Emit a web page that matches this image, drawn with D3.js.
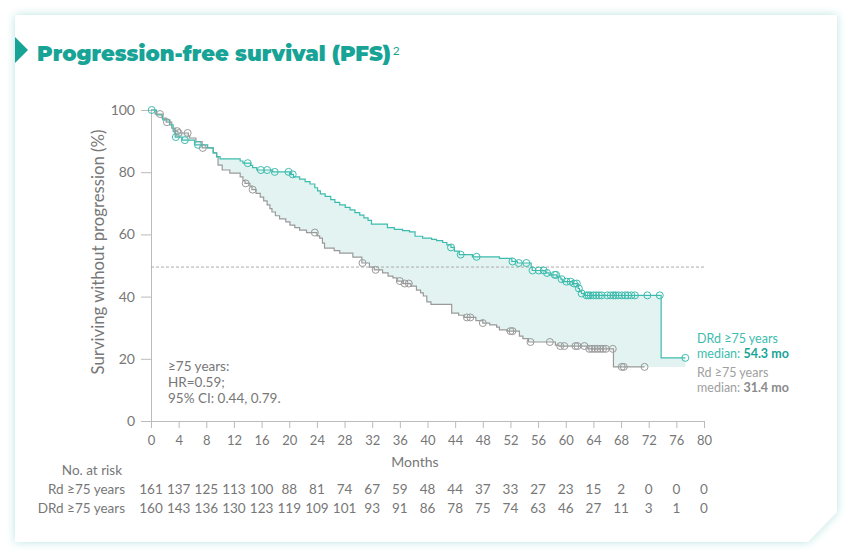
<!DOCTYPE html>
<html><head><meta charset="utf-8">
<script src="https://cdn.jsdelivr.net/npm/d3@7"></script>
<style>html,body{margin:0;padding:0;background:#fff;} svg{display:block;}</style>
</head><body>
<script>
// ---------------- DATA ----------------
const monthTicks = d3.range(0, 81, 4);
const yTicks = [0, 20, 40, 60, 80, 100];
const rdAtRisk  = [161,137,125,113,100,88,81,74,67,59,48,44,37,33,27,23,15,2,0,0,0];
const drdAtRisk = [160,143,136,130,123,119,109,101,93,91,86,78,75,74,63,46,27,11,3,1,0];

// Kaplan-Meier steps: [month of drop, survival % after drop]
const drdSteps = [[0,100],[0.8,98.4],[1.7,96.8],[2.7,95.2],[3.2,93.2],[3.5,91.3],[4.5,90.3],[6.3,88.8],[8.2,87.8],[9,86.2],[9.5,85],[10,84.3],[12.9,83.6],[13.3,82.9],[14.4,82.2],[14.7,81.5],[15.3,80.7],[17.6,80.1],[20.2,79.3],[20.6,78.5],[21.5,77.8],[22.3,77.0],[23.0,76.2],[23.7,75.0],[24.1,74.0],[24.5,73.0],[25.2,72.2],[26.0,71.2],[26.6,70.3],[27.3,69.5],[28.1,68.7],[28.8,67.9],[29.5,67.0],[30.2,66.2],[30.8,65.3],[31.4,64.5],[31.9,63.3],[34.2,62.2],[35.2,61.6],[36.4,61.2],[37.4,60.8],[38.2,59.4],[39.3,58.8],[40.6,58.4],[41.3,58.0],[42.2,57.4],[42.8,56.6],[43.4,55.8],[43.9,54.6],[44.6,53.5],[46.5,52.8],[50.4,52.3],[52.2,51.3],[53.0,50.8],[55.0,49.4],[55.15,48.4],[57.1,47.6],[57.6,47.0],[58.7,46.3],[59.3,45.6],[59.5,44.8],[61.0,44.2],[61.8,42.6],[62.0,41.6],[62.3,41.0],[62.7,40.4],[73.8,20.3]];
const drdEnd = 77.3;
const drdCensor = [0.1,3.6,4.9,6.8,14.0,15.9,16.8,17.9,19.9,20.5,43.4,44.8,47.1,52.3,53.2,54.3,55.2,56.1,56.8,57.3,58.4,58.6,59.4,60.1,60.7,61.2,61.6,61.9,62.3,63.0,63.3,63.6,64.0,64.4,64.8,65.2,66.0,66.5,66.9,67.2,67.6,68.1,68.6,69.0,69.5,70.0,71.8,73.6,77.3];

const rdSteps = [[0,100],[0.6,98.7],[1.6,97.4],[2.2,96.1],[3.0,94.2],[3.5,93.2],[3.9,92.6],[5.4,91.6],[5.6,91.0],[6.5,89.8],[7.4,87.8],[9.0,86.2],[9.5,84.9],[9.7,82.3],[10.3,80.7],[11.4,79.7],[12.9,78.5],[13.3,77.3],[13.6,76.4],[14.3,75.5],[14.6,74.4],[15.2,73.2],[15.8,72.0],[16.3,70.8],[16.8,69.5],[17.2,68.3],[17.5,67.2],[18.0,66.0],[18.6,65.0],[19.5,64.0],[20.1,63.0],[20.8,62.2],[21.5,61.4],[22.5,60.6],[24.0,59.5],[24.4,58.8],[24.8,57.2],[25.1,55.6],[26.5,54.8],[27.3,54.0],[29.2,52.7],[30.5,50.8],[31.6,49.5],[32.3,48.6],[33.5,47.6],[34.3,46.6],[35.0,46.0],[35.6,45.0],[36.5,44.2],[37.6,43.4],[38.4,42.1],[39.0,41.2],[39.4,40.2],[39.9,38.3],[40.5,37.5],[43.5,34.7],[44.5,34.0],[45.3,33.3],[47.0,32.3],[48.0,31.5],[49.0,30.9],[50.0,30.2],[50.4,29.3],[51.5,28.9],[53.3,27.3],[53.8,26.5],[54.6,25.4],[58.5,24.4],[59.0,24.1],[63.2,23.2],[66.9,17.4]];
const rdEnd = 71.4;
const rdCensor = [1.3,2.3,3.8,4.0,5.3,7.5,13.7,14.7,23.7,30.6,32.5,36.0,36.7,37.3,45.7,46.2,48.0,52.0,52.3,54.9,57.7,59.2,59.8,61.4,61.7,62.7,63.4,63.8,64.2,64.6,65.0,65.4,65.8,66.8,68.1,68.4,71.4];
const medianLevel = 49.5;

// ---------------- STYLE ----------------
const TEAL = "#3dbcae", TEAL_DARK = "#17a396", GRAY = "#9a9a9a", TXT = "#777", FILL = "#e3f3f1";
const FONT = "Lato, 'Noto Sans', sans-serif";

const W = 852, H = 558;
const svg = d3.select("body").append("svg").attr("width", W).attr("height", H);
const defs = svg.append("defs");
const f = defs.append("filter").attr("id","glow").attr("x","-10%").attr("y","-10%").attr("width","120%").attr("height","120%");
f.append("feDropShadow").attr("dx",0).attr("dy",0).attr("stdDeviation",5).attr("flood-color","#9fdbd4").attr("flood-opacity",0.75);

// card
svg.append("path").attr("d","M15,15 L837,15 L837,512 L808,542 L15,542 Z")
  .attr("fill","#fff").attr("filter","url(#glow)");

function fit(sel, target){ const w = sel.node().getComputedTextLength(); const fs = parseFloat(sel.attr("font-size")); sel.attr("font-size", fs*target/w); }

// title
svg.append("path").attr("d","M15,37 L28,50 L15,63 Z").attr("fill", TEAL_DARK);
const title = svg.append("text").attr("x",37).attr("y",61)
  .attr("font-family","Montserrat, Lato, sans-serif").attr("font-weight",900).attr("font-size",21)
  .attr("fill",TEAL_DARK).text("Progression-free survival (PFS)");
fit(title, 354);
svg.append("text").attr("x",37 + title.node().getComputedTextLength() + 2).attr("y",55)
  .attr("font-family",FONT).attr("font-size",12).attr("fill",TEAL_DARK).text("2");

// scales
const x = d3.scaleLinear().domain([0, 80]).range([151, 704]);
const y = d3.scaleLinear().domain([0, 100]).range([421, 110]);

function stepValue(steps, m){ let v = steps[0][1]; for (const s of steps){ if (s[0] <= m) v = s[1]; else break; } return v; }
function stepPts(steps, end){ return steps.concat([[end, steps[steps.length-1][1]]]); }

// fill between curves
const months = Array.from(new Set(drdSteps.map(d=>d[0]).concat(rdSteps.map(d=>d[0])).concat([drdEnd]))).sort((a,b)=>a-b);
const areaData = months.map(m => ({m, a: stepValue(drdSteps, m), b: stepValue(rdSteps, m)}));
svg.append("path").datum(areaData)
  .attr("d", d3.area().curve(d3.curveStepAfter).x(d=>x(d.m)).y0(d=>y(d.b)).y1(d=>y(d.a)))
  .attr("fill", FILL);

// axes
const gy = svg.append("g").attr("transform","translate(151,0)")
  .call(d3.axisLeft(y).tickValues(yTicks).tickSize(10).tickSizeOuter(0).tickPadding(6));
const gx = svg.append("g").attr("transform","translate(0,421)")
  .call(d3.axisBottom(x).tickValues(monthTicks).tickSize(7).tickSizeOuter(0).tickPadding(8));
[gx, gy].forEach(g => {
  g.select(".domain").attr("stroke","#bbb");
  g.selectAll(".tick line").attr("stroke","#bbb");
  g.selectAll(".tick text").attr("fill",TXT).attr("font-family",FONT).attr("font-size",13);
});
gy.selectAll(".tick text").attr("font-size",14);

// median line
svg.append("line").attr("x1",x(0)).attr("x2",x(80)).attr("y1",y(medianLevel)).attr("y2",y(medianLevel))
  .attr("stroke","#aaa").attr("stroke-dasharray","3,2").attr("stroke-width",1);

// curves
const line = d3.line().curve(d3.curveStepAfter).x(d=>x(d[0])).y(d=>y(d[1]));
svg.append("path").datum(stepPts(rdSteps, rdEnd)).attr("d", line).attr("fill","none").attr("stroke",GRAY).attr("stroke-width",1.2);
svg.append("path").datum(stepPts(drdSteps, drdEnd)).attr("d", line).attr("fill","none").attr("stroke",TEAL).attr("stroke-width",1.2);

svg.append("g").selectAll("circle").data(rdCensor).join("circle")
  .attr("cx", d=>x(d)).attr("cy", d=>y(stepValue(rdSteps,d))).attr("r",3.5)
  .attr("fill","none").attr("stroke",GRAY).attr("stroke-width",1);
svg.append("g").selectAll("circle").data(drdCensor).join("circle")
  .attr("cx", d=>x(d)).attr("cy", d=>y(stepValue(drdSteps,d))).attr("r",3.5)
  .attr("fill","none").attr("stroke",TEAL).attr("stroke-width",1);

// axis titles
const yTitle = svg.append("text").attr("transform","translate(104,252) rotate(-90)").attr("text-anchor","middle")
  .attr("font-family",FONT).attr("font-size",14).attr("fill",TXT).text("Surviving without progression (%)");
fit(yTitle, 245);
svg.append("text").attr("x",415).attr("y",467).attr("text-anchor","middle")
  .attr("font-family",FONT).attr("font-size",14).attr("fill",TXT).text("Months");

// HR annotation
const hrLines = ["≥75 years:", "HR=0.59;", "95% CI: 0.44, 0.79."];
svg.append("g").selectAll("text").data(hrLines).join("text")
  .attr("x",168).attr("y",(d,i)=>371+i*16).attr("font-family",FONT).attr("font-size",13.5).attr("fill",TXT).text(d=>d);

// legend labels
const lg = svg.append("g").attr("font-family",FONT).attr("font-size",12.5);
lg.append("text").attr("x",697).attr("y",343).attr("fill",TEAL).text("DRd ≥75 years");
const t2 = lg.append("text").attr("x",697).attr("y",358).attr("fill",TEAL);
t2.append("tspan").text("median: ");
t2.append("tspan").attr("font-weight",700).attr("fill",TEAL_DARK).text("54.3 mo");
lg.append("text").attr("x",697).attr("y",377).attr("fill","#a0a0a0").text("Rd ≥75 years");
const t4 = lg.append("text").attr("x",697).attr("y",392).attr("fill","#a0a0a0");
t4.append("tspan").text("median: ");
t4.append("tspan").attr("font-weight",700).attr("fill","#8a8a8a").text("31.4 mo");

// risk table
const rt = svg.append("g").attr("font-family",FONT).attr("font-size",13.5).attr("fill",TXT);
rt.append("text").attr("x",122).attr("y",475).attr("text-anchor","end").text("No. at risk");
rt.append("text").attr("x",125).attr("y",494).attr("text-anchor","end").text("Rd ≥75 years");
rt.append("text").attr("x",125).attr("y",513).attr("text-anchor","end").text("DRd ≥75 years");
rt.append("g").selectAll("text").data(rdAtRisk).join("text")
  .attr("x",(d,i)=>x(monthTicks[i])).attr("y",494).attr("text-anchor","middle").text(d=>d);
rt.append("g").selectAll("text").data(drdAtRisk).join("text")
  .attr("x",(d,i)=>x(monthTicks[i])).attr("y",513).attr("text-anchor","middle").text(d=>d);
</script>
</body></html>
